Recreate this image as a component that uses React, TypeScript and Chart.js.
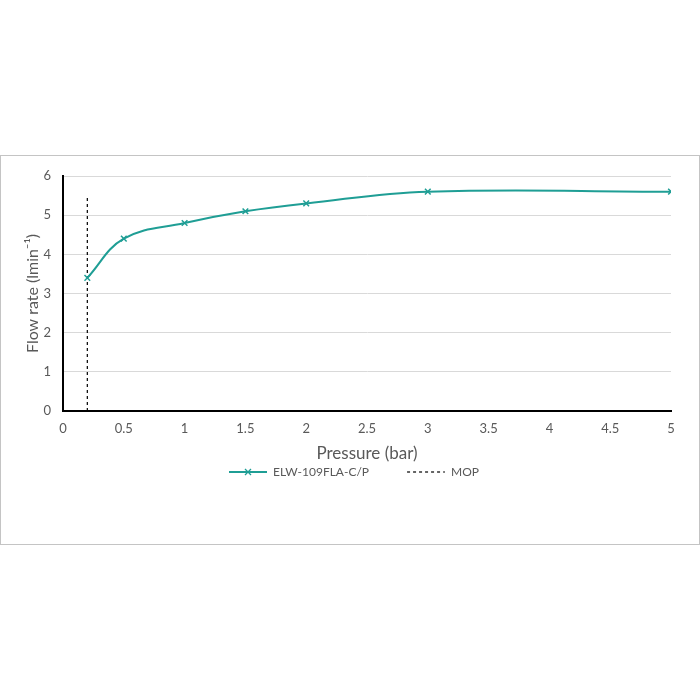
import React, { useEffect, useRef } from "react";
import { Chart, registerables } from "chart.js";

Chart.register(...registerables);

const pressure = [0.2, 0.5, 1, 1.5, 2, 3, 5];
const flowRate = [3.4, 4.4, 4.8, 5.1, 5.3, 5.6, 5.6];
const mopX = [0.2, 0.2];
const mopY = [0, 5.5];
const seriesName = "ELW-109FLA-C/P";
const mopName = "MOP";
const xTitle = "Pressure (bar)";
const yTitle = "Flow rate (lmin\u207B\u00B9)";

const TEAL = "#1f9e95";
const GRAY_TEXT = "#595959";
const FONT = "Lato, 'Open Sans', sans-serif";
const ICON_W = 74;

function makeIcon(kind: "series" | "mop"): HTMLCanvasElement {
  const c = document.createElement("canvas");
  c.width = ICON_W;
  c.height = 10;
  const ctx = c.getContext("2d")!;
  const s = ICON_W - 38;
  if (kind === "series") {
    ctx.strokeStyle = TEAL;
    ctx.lineWidth = 2;
    ctx.beginPath();
    ctx.moveTo(s, 5);
    ctx.lineTo(ICON_W, 5);
    ctx.stroke();
    ctx.lineWidth = 1.3;
    ctx.beginPath();
    ctx.moveTo(s + 16, 2);
    ctx.lineTo(s + 22, 8);
    ctx.moveTo(s + 22, 2);
    ctx.lineTo(s + 16, 8);
    ctx.stroke();
  } else {
    ctx.strokeStyle = "#000";
    ctx.lineWidth = 1.2;
    ctx.setLineDash([3, 3]);
    ctx.beginPath();
    ctx.moveTo(s, 5);
    ctx.lineTo(ICON_W, 5);
    ctx.stroke();
  }
  return c;
}

export default function App() {
  const ref = useRef<HTMLCanvasElement | null>(null);
  useEffect(() => {
    if (!ref.current) return;
    const seriesIcon = makeIcon("series");
    const mopIcon = makeIcon("mop");
    const chart = new Chart(ref.current, {
      type: "line",
      data: {
        datasets: [
          {
            label: seriesName,
            data: pressure.map((x, i) => ({ x, y: flowRate[i] })),
            borderColor: TEAL,
            backgroundColor: TEAL,
            borderWidth: 2,
            tension: 0.4,
            pointStyle: "crossRot",
            pointRadius: 4,
            pointBorderWidth: 1.5,
            pointBorderColor: TEAL,
          },
          {
            label: mopName,
            data: mopX.map((x, i) => ({ x, y: mopY[i] })),
            borderColor: "#000",
            borderWidth: 1.2,
            borderDash: [3, 3],
            pointRadius: 0,
            tension: 0,
          },
        ],
      },
      options: {
        animation: false,
        responsive: false,
        devicePixelRatio: 1,
        layout: { padding: { left: 0, top: 20, right: 28, bottom: 56 } },
        plugins: {
          tooltip: { enabled: false },
          legend: {
            position: "bottom",
            labels: {
              usePointStyle: true,
              pointStyleWidth: ICON_W,
              padding: 2,
              color: GRAY_TEXT,
              font: { family: FONT, size: 12 },
              generateLabels: () => [
                { text: seriesName, pointStyle: seriesIcon as any, datasetIndex: 0, fontColor: GRAY_TEXT, lineWidth: 0, strokeStyle: "transparent", fillStyle: "transparent" },
                { text: mopName, pointStyle: mopIcon as any, datasetIndex: 1, fontColor: GRAY_TEXT, lineWidth: 0, strokeStyle: "transparent", fillStyle: "transparent" },
              ],
            },
          },
        },
        scales: {
          x: {
            type: "linear",
            min: 0,
            max: 5,
            ticks: {
              stepSize: 0.5,
              color: GRAY_TEXT,
              font: { family: FONT, size: 13 },
              padding: 10,
              callback: (v: any) => String(Number(v)),
            },
            grid: { display: false, drawTicks: false },
            border: { color: "#000", width: 2 },
            title: { display: true, text: xTitle, color: GRAY_TEXT, font: { family: FONT, size: 17 }, padding: { top: 4, bottom: 0 } },
            afterFit: (s: any) => { s.height = 53; },
          },
          y: {
            type: "linear",
            min: 0,
            max: 6,
            ticks: { stepSize: 1, color: GRAY_TEXT, font: { family: FONT, size: 13 }, padding: 12 },
            grid: { color: "#d9d9d9", lineWidth: 1, drawTicks: false },
            border: { color: "#000", width: 2 },
            title: { display: true, text: yTitle, color: GRAY_TEXT, font: { family: FONT, size: 16 }, padding: { top: 22, bottom: 0 } },
            afterFit: (s: any) => { s.width = 62; },
          },
        },
      },
    });
    return () => chart.destroy();
  }, []);
  return (
    <div style={{ position: "absolute", top: 0, left: 0, width: 700, height: 700, background: "#fff" }}>
      <div style={{ position: "absolute", top: 155, left: 0, width: 700, height: 390, boxSizing: "border-box", border: "1px solid #c4c4c4" }}>
        <canvas ref={ref} width={698} height={388} style={{ display: "block" }} />
      </div>
    </div>
  );
}
